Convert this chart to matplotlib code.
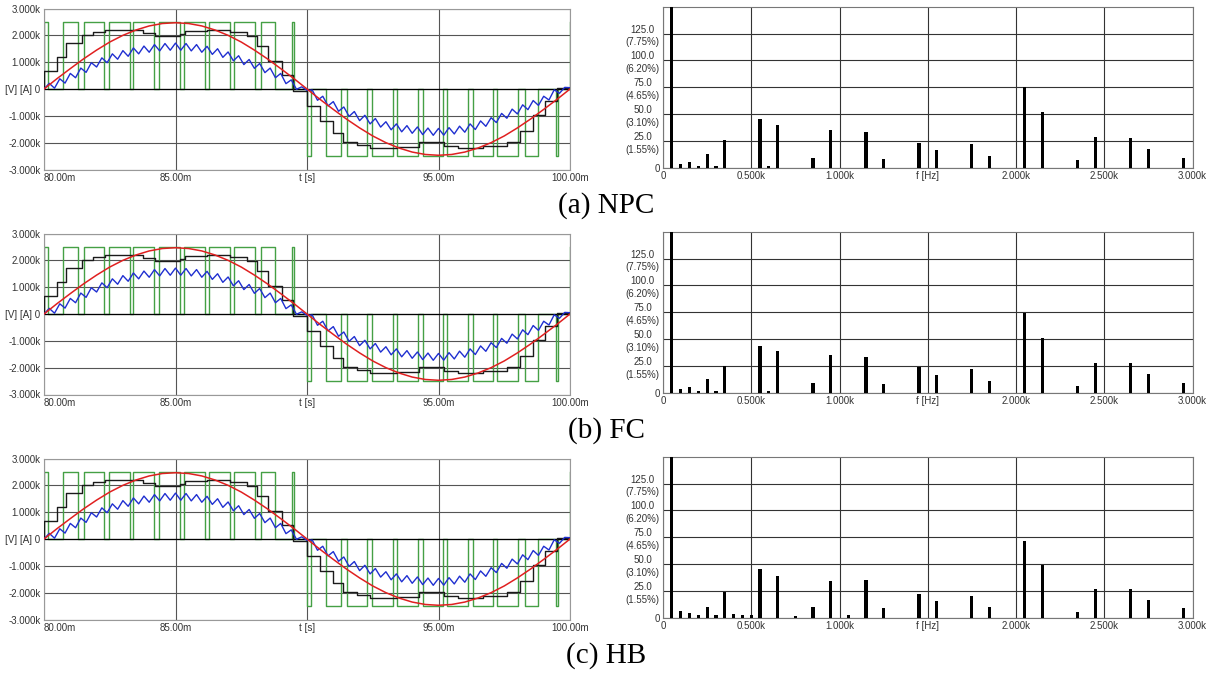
#!/usr/bin/env python3
import matplotlib
matplotlib.use('Agg')
import matplotlib.pyplot as plt

# ---- time domain (one period, t in ms) ----
RED_T = [80.0, 80.5, 81.0, 81.5, 82.0, 82.5, 83.0, 83.5, 84.0, 84.5,
         85.0, 85.5, 86.0, 86.5, 87.0, 87.5, 88.0, 88.5, 89.0, 89.5,
         90.0, 90.5, 91.0, 91.5, 92.0, 92.5, 93.0, 93.5, 94.0, 94.5,
         95.0, 95.5, 96.0, 96.5, 97.0, 97.5, 98.0, 98.5, 99.0, 99.5, 100.0]
RED_V = [0, 390, 760, 1120, 1450, 1750, 2000, 2200, 2350, 2440,
         2470, 2440, 2350, 2200, 2000, 1750, 1450, 1120, 760, 390,
         0, -390, -760, -1120, -1450, -1750, -2000, -2200, -2350, -2440,
         -2470, -2440, -2350, -2200, -2000, -1750, -1450, -1120, -760, -390, 0]

BLUE_T = [80.0, 80.2, 80.4, 80.6, 80.8, 81.0, 81.2, 81.4, 81.6, 81.8,
          82.0, 82.2, 82.4, 82.6, 82.8, 83.0, 83.2, 83.4, 83.6, 83.8,
          84.0, 84.2, 84.4, 84.6, 84.8, 85.0, 85.2, 85.4, 85.6, 85.8,
          86.0, 86.2, 86.4, 86.6, 86.8, 87.0, 87.2, 87.4, 87.6, 87.8,
          88.0, 88.2, 88.4, 88.6, 88.8, 89.0, 89.2, 89.4, 89.6, 89.8,
          90.0, 90.2, 90.4, 90.6, 90.8, 91.0, 91.2, 91.4, 91.6, 91.8,
          92.0, 92.2, 92.4, 92.6, 92.8, 93.0, 93.2, 93.4, 93.6, 93.8,
          94.0, 94.2, 94.4, 94.6, 94.8, 95.0, 95.2, 95.4, 95.6, 95.8,
          96.0, 96.2, 96.4, 96.6, 96.8, 97.0, 97.2, 97.4, 97.6, 97.8,
          98.0, 98.2, 98.4, 98.6, 98.8, 99.0, 99.2, 99.4, 99.6, 99.8, 100.0]
BLUE_V = [0, 210, 30, 380, 220, 580, 420, 780, 620, 980,
          820, 1160, 980, 1310, 1110, 1430, 1220, 1530, 1310, 1600,
          1370, 1655, 1420, 1695, 1445, 1710, 1445, 1695, 1420, 1655,
          1370, 1590, 1290, 1500, 1180, 1380, 1050, 1240, 910, 1100,
          770, 950, 610, 780, 420, 580, 200, 340, -10, 80,
          -50, -40, -420, -270, -630, -470, -830, -670, -1020, -840,
          -1180, -980, -1300, -1100, -1420, -1220, -1520, -1300, -1595, -1365,
          -1650, -1415, -1700, -1455, -1725, -1470, -1720, -1440, -1675, -1385,
          -1610, -1300, -1510, -1190, -1390, -1070, -1250, -910, -1090, -750,
          -930, -590, -770, -430, -610, -270, -410, -30, -160, 60, 50]

# staircase output voltage (step-post)
BLACK_T = [80.0, 80.0, 80.48, 80.84, 81.43, 81.87, 82.32, 83.78, 84.22, 85.17,
           85.36, 86.19, 87.07, 87.71, 88.09, 88.53, 89.04, 89.48, 90.01, 90.49,
           91.00, 91.38, 91.89, 92.40, 93.41, 94.25, 95.20, 95.75, 96.70, 97.59,
           98.10, 98.60, 99.05, 99.49, 100.0]
BLACK_V = [40, 660, 1190, 1725, 2000, 2125, 2190, 2090, 1975, 2060,
           2150, 2190, 2125, 1975, 1600, 1040, 540, -60, -625, -1210,
           -1650, -1960, -2090, -2190, -2150, -1975, -2110, -2190, -2110, -1960,
           -1560, -960, -460, 40, 40]

# switched cell voltage (step-post)
GREEN_T = [80.0, 80.0, 80.14, 80.73, 81.29, 81.53, 82.29, 82.48, 83.27, 83.40,
           84.18, 84.38, 85.17, 85.33, 86.12, 86.29, 87.07, 87.24, 88.02, 88.25,
           88.78, 89.42, 89.52, 90.01, 90.14, 90.72, 91.28, 91.53, 92.29, 92.46,
           93.28, 93.41, 94.23, 94.40, 95.16, 95.31, 96.13, 96.30, 97.08, 97.24,
           98.03, 98.29, 98.80, 99.46, 99.56, 100.0]
GREEN_V = [0, 2500, 0, 2500, 0, 2500, 0, 2500, 0, 2500,
           0, 2500, 0, 2500, 0, 2500, 0, 2500, 0, 2500,
           0, 2500, 0, -2500, 0, -2500, 0, -2500, 0, -2500,
           0, -2500, 0, -2500, 0, -2500, 0, -2500, 0, -2500,
           0, -2500, 0, -2500, 0, 2500]

# ---- harmonic spectra ----
NPC_F = [50, 100, 150, 200, 250, 300, 350, 550, 600, 650, 850, 950, 1150, 1250,
         1450, 1550, 1750, 1850, 2050, 2150, 2350, 2450, 2650, 2750, 2950]
NPC_A = [1613, 4.1, 5.7, 2.2, 13.3, 1.6, 26.3, 45.3, 1.6, 39.6, 9.5, 35.8, 33.2, 8.5,
         23.7, 16.8, 22.2, 11.1, 75.0, 52.2, 7.0, 28.5, 28.2, 18.0, 9.2]

FC_F = [50, 100, 150, 200, 250, 300, 350, 550, 600, 650, 850, 950, 1150, 1250,
        1450, 1550, 1750, 1850, 2050, 2150, 2350, 2450, 2650, 2750, 2950]
FC_A = [1613, 4.0, 5.5, 2.2, 13.0, 1.6, 25.5, 44.0, 1.6, 39.0, 9.3, 35.4, 33.6, 8.4,
        24.0, 16.8, 22.4, 11.2, 74.6, 51.0, 6.5, 28.0, 28.0, 17.7, 9.3]

HB_F = [50, 100, 150, 200, 250, 300, 350, 400, 450, 500, 550, 650, 750, 850, 950,
        1050, 1150, 1250, 1450, 1550, 1750, 1850, 2050, 2150, 2350, 2450, 2650,
        2750, 2950]
HB_A = [1613, 6.2, 4.7, 2.5, 10.0, 2.5, 23.8, 3.8, 3.1, 2.5, 45.3, 39.0, 1.6, 10.0, 34.4,
        2.5, 35.3, 9.4, 22.0, 16.0, 20.0, 10.0, 72.0, 49.0, 6.0, 27.0, 27.0,
        17.0, 9.0]

CAPTIONS = ['(a) NPC', '(b) FC', '(c) HB']
SPECTRA = [(NPC_F, NPC_A), (FC_F, FC_A), (HB_F, HB_A)]

T_TICKS = [80, 85, 90, 95, 100]
T_LABELS = ['80.00m', '85.00m', 't [s]', '95.00m', '100.00m']
V_TICKS = [-3000, -2000, -1000, 0, 1000, 2000, 3000]
V_LABELS = ['-3.000k', '-2.000k', '-1.000k', '[V] [A] 0', '1.000k', '2.000k', '3.000k']
F_TICKS = [0, 500, 1000, 1500, 2000, 2500, 3000]
F_LABELS = ['0', '0.500k', '1.000k', 'f [Hz]', '2.000k', '2.500k', '3.000k']
A_TICKS = [0, 25, 50, 75, 100, 125]
A_LABELS = ['0', '25.0\n(1.55%)', '50.0\n(3.10%)', '75.0\n(4.65%)',
            '100.0\n(6.20%)', '125.0\n(7.75%)']

W, H = 1210, 677
ROW_STEP = 225
TICK_FONT = dict(family='Liberation Sans', size=7, color='#333333')


def style_ticks(ax):
    ax.tick_params(length=0, pad=2.5)
    for lab in ax.get_xticklabels() + ax.get_yticklabels():
        lab.set_fontfamily(TICK_FONT['family'])
        lab.set_fontsize(TICK_FONT['size'])
        lab.set_color(TICK_FONT['color'])


def draw_time(ax):
    ax.step(GREEN_T, GREEN_V, where='post', color='#45a045', lw=1.0, zorder=2)
    ax.axhline(0, color='black', lw=0.9, zorder=2.5)
    ax.step(BLACK_T, BLACK_V, where='post', color='#1a1a1a', lw=1.0, zorder=3)
    ax.plot(BLUE_T, BLUE_V, color='#1f2fd0', lw=1.0, zorder=4)
    ax.plot(RED_T, RED_V, color='#e02020', lw=1.1, zorder=5)

    ax.set_xlim(80, 100)
    ax.set_ylim(-3000, 3000)
    ax.set_xticks(T_TICKS)
    ax.set_xticklabels(T_LABELS)
    ax.set_yticks(V_TICKS)
    ax.set_yticklabels(V_LABELS)
    ax.grid(True, color='#555555', lw=0.8, zorder=1)
    ax.set_axisbelow(True)
    for sp in ax.spines.values():
        sp.set_color('#999999')
        sp.set_linewidth(0.8)
    style_ticks(ax)
    ax.get_xticklabels()[0].set_ha('left')


def draw_spectrum(ax, freqs, amps):
    ax.bar(freqs, amps, width=18, color='black', zorder=3)
    ax.set_xlim(0, 3000)
    ax.set_ylim(0, 150)
    ax.set_xticks(F_TICKS)
    ax.set_xticklabels(F_LABELS)
    ax.set_yticks(A_TICKS)
    ax.set_yticklabels(A_LABELS, multialignment='center', linespacing=1.35)
    ax.grid(True, color='#333333', lw=0.8, zorder=1)
    ax.set_axisbelow(True)
    for sp in ax.spines.values():
        sp.set_color('#777777')
        sp.set_linewidth(0.8)
    style_ticks(ax)


def main():
    fig = plt.figure(figsize=(W / 100, H / 100), dpi=100)
    for r in range(3):
        off = ROW_STEP * r
        ax_t = fig.add_axes([44 / W, 1 - (169.5 + off) / H, 526 / W, 161 / H])
        draw_time(ax_t)
        ax_f = fig.add_axes([663 / W, 1 - (168 + off) / H, 529.5 / W, 161.3 / H])
        draw_spectrum(ax_f, *SPECTRA[r])
        fig.text(606 / W, 1 - (206 + off) / H, CAPTIONS[r], ha='center', va='center',
                 family='Liberation Serif', fontsize=21, color='black')
    fig.savefig('out.png', dpi=100)
    plt.close(fig)


if __name__ == '__main__':
    main()
